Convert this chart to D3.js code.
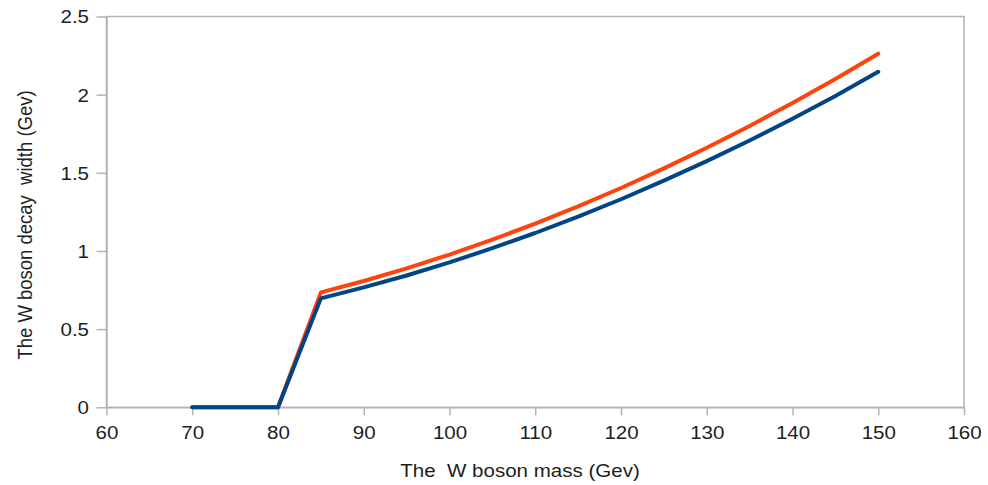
<!DOCTYPE html>
<html>
<head>
<meta charset="utf-8">
<script src="https://cdn.jsdelivr.net/npm/d3@7"></script>
<style>
  html, body { margin: 0; padding: 0; background: #ffffff; }
  svg { display: block; }
  text { font-family: "Liberation Sans", Arial, sans-serif; fill: #1e1e1e; }
</style>
</head>
<body>
<svg id="chart" width="988" height="485"></svg>
<script>
// W boson mass (GeV) on the x axis
const massGeV = [70, 75, 80, 85, 90, 95, 100, 105, 110, 115, 120, 125, 130, 135, 140, 145, 150];
// decay width (GeV), lower curve
const widthLower = [0, 0, 0, 0.697, 0.767, 0.843, 0.927, 1.018, 1.115, 1.220, 1.331, 1.450, 1.575, 1.707, 1.846, 1.992, 2.146];
// decay width (GeV), upper curve
const widthUpper = [0, 0, 0, 0.735, 0.808, 0.889, 0.977, 1.073, 1.175, 1.286, 1.403, 1.528, 1.660, 1.800, 1.946, 2.100, 2.262];
// axis ticks
const xTicks = [60, 70, 80, 90, 100, 110, 120, 130, 140, 150, 160];
const yTicks = [0, 0.5, 1, 1.5, 2, 2.5];
const xTitle = "The  W boson mass (Gev)";
const yTitle = "The W boson decay  width (Gev)";

const svg = d3.select("#chart");
const plot = { left: 106.5, right: 964, top: 16.5, bottom: 407.3 };
const fontPx = 18.5;
const stretch = 1.11;           // glyphs are drawn slightly wide
const axisColor = "#b3b3b3";

const x = d3.scaleLinear().domain([60, 160]).range([plot.left, plot.right]);
const y = d3.scaleLinear().domain([0, 2.5]).range([plot.bottom, plot.top]);

// plot frame
svg.append("rect")
  .attr("x", plot.left).attr("y", plot.top)
  .attr("width", plot.right - plot.left).attr("height", plot.bottom - plot.top)
  .attr("fill", "none").attr("stroke", axisColor).attr("stroke-width", 1.5);

// x axis
const gx = svg.append("g")
  .attr("transform", `translate(0,${plot.bottom})`)
  .call(d3.axisBottom(x).tickValues(xTicks).tickFormat(d3.format("d")).tickSize(8).tickSizeOuter(0));
gx.select(".domain").attr("stroke", axisColor).attr("stroke-width", 1.5);
gx.selectAll(".tick line").attr("stroke", axisColor).attr("stroke-width", 1.5);
gx.selectAll(".tick text")
  .attr("y", 32).attr("dy", null)
  .attr("font-size", fontPx)
  .attr("transform", `scale(${stretch},1)`)
  .style("fill", "#1e1e1e");

// y axis
const gy = svg.append("g")
  .attr("transform", `translate(${plot.left},0)`)
  .call(d3.axisLeft(y).tickValues(yTicks).tickFormat(d => d3.format("")(d)).tickSize(10).tickSizeOuter(0));
gy.select(".domain").attr("stroke", axisColor).attr("stroke-width", 1.5);
gy.selectAll(".tick line").attr("stroke", axisColor).attr("stroke-width", 1.5);
gy.selectAll(".tick text")
  .attr("x", -17.5 / stretch).attr("dy", "0.35em")
  .attr("font-size", fontPx)
  .attr("transform", `scale(${stretch},1)`)
  .style("fill", "#1e1e1e");
svg.selectAll("g").attr("font-family", null);

// axis titles (double spaces kept as written)
svg.append("text")
  .attr("transform", `translate(520,477) scale(${stretch},1)`)
  .attr("text-anchor", "middle")
  .attr("font-size", fontPx)
  .style("white-space", "pre")
  .attr("xml:space", "preserve")
  .text(xTitle);

svg.append("text")
  .attr("transform", `translate(32,225) rotate(-90) scale(1,${stretch})`)
  .attr("text-anchor", "middle")
  .attr("font-size", fontPx)
  .style("white-space", "pre")
  .attr("xml:space", "preserve")
  .text(yTitle);

// curves
const line = d3.line().x(d => x(d[0])).y(d => y(d[1]));
const series = [
  { values: widthUpper, color: "#ff420e" },
  { values: widthLower, color: "#004586" }
];
series.forEach(s => {
  svg.append("path")
    .datum(massGeV.map((m, i) => [m, s.values[i]]))
    .attr("fill", "none")
    .attr("stroke", s.color)
    .attr("stroke-width", 4)
    .attr("stroke-linejoin", "round")
    .attr("stroke-linecap", "round")
    .attr("d", line);
});
</script>
</body>
</html>
